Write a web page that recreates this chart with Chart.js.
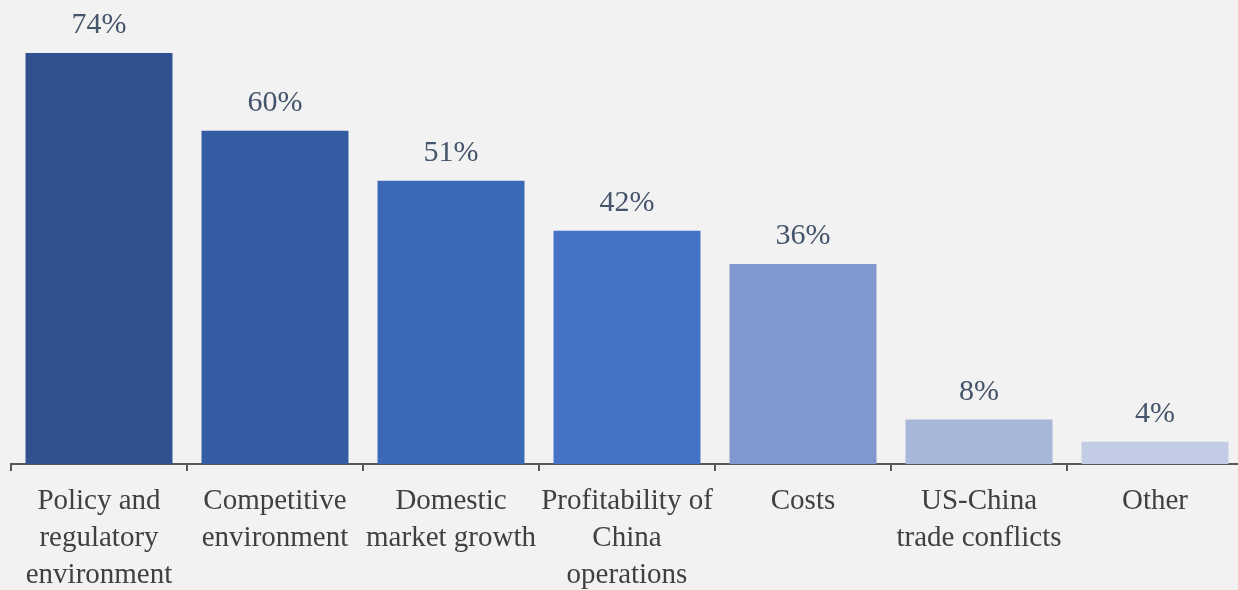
<!DOCTYPE html>
<html>
<head>
<meta charset="utf-8">
<script src="https://cdn.jsdelivr.net/npm/chart.js@4"></script>
<style>
  html, body { margin: 0; padding: 0; background: #f2f2f2; overflow: hidden; }
  #wrap { width: 1243px; height: 590px; }
</style>
</head>
<body>
<div id="wrap"><canvas id="factorChart"></canvas></div>
<script>
const categories = [
    ['Policy and', 'regulatory', 'environment'],
    ['Competitive', 'environment'],
    ['Domestic', 'market growth'],
    ['Profitability of', 'China', 'operations'],
    ['Costs'],
    ['US-China', 'trade conflicts'],
    ['Other']
];
const shares = [74, 60, 51, 42, 36, 8, 4];
const barColors = ['#2f5190', '#345ca3', '#3c69b6', '#4472c4', '#8097cf', '#a8b6da', '#c2cce5'];

// draws the "74%" style labels above each bar
const valueLabels = {
    id: 'valueLabels',
    afterDatasetsDraw(chart) {
        const c = chart.ctx;
        const meta = chart.getDatasetMeta(0);
        c.save();
        c.fillStyle = '#44546a';
        c.font = '30px "Liberation Serif", serif';
        c.textAlign = 'center';
        c.textBaseline = 'alphabetic';
        meta.data.forEach(function (bar, i) {
            c.fillText(shares[i] + '%', bar.x, bar.y - 20);
        });
        c.restore();
    }
};

const ctx = document.getElementById('factorChart').getContext('2d');
const factorChart = new Chart(ctx, {
    type: 'bar',
    data: {
        labels: categories,
        datasets: [{
            data: shares,
            backgroundColor: barColors,
            categoryPercentage: 1,
            barPercentage: 0.835
        }]
    },
    plugins: [valueLabels],
    options: {
        responsive: true,
        maintainAspectRatio: false,
        animation: false,
        layout: {
            padding: { top: 53, left: 11, right: 0, bottom: 0 }
        },
        plugins: {
            legend: { display: false },
            tooltip: { enabled: false }
        },
        scales: {
            x: {
                afterFit: function (scale) {
                    scale.height = 126;
                },
                grid: {
                    offset: true,
                    drawOnChartArea: false,
                    drawTicks: true,
                    tickLength: 7,
                    color: '#595959',
                    lineWidth: 2
                },
                border: { display: true, color: '#595959', width: 2 },
                ticks: {
                    autoSkip: false,
                    maxRotation: 0,
                    padding: 12,
                    color: '#404040',
                    font: { family: '"Liberation Serif", serif', size: 29, lineHeight: 1.28 }
                }
            },
            y: {
                display: false,
                min: 0,
                max: 74
            }
        }
    }
});
</script>
</body>
</html>
